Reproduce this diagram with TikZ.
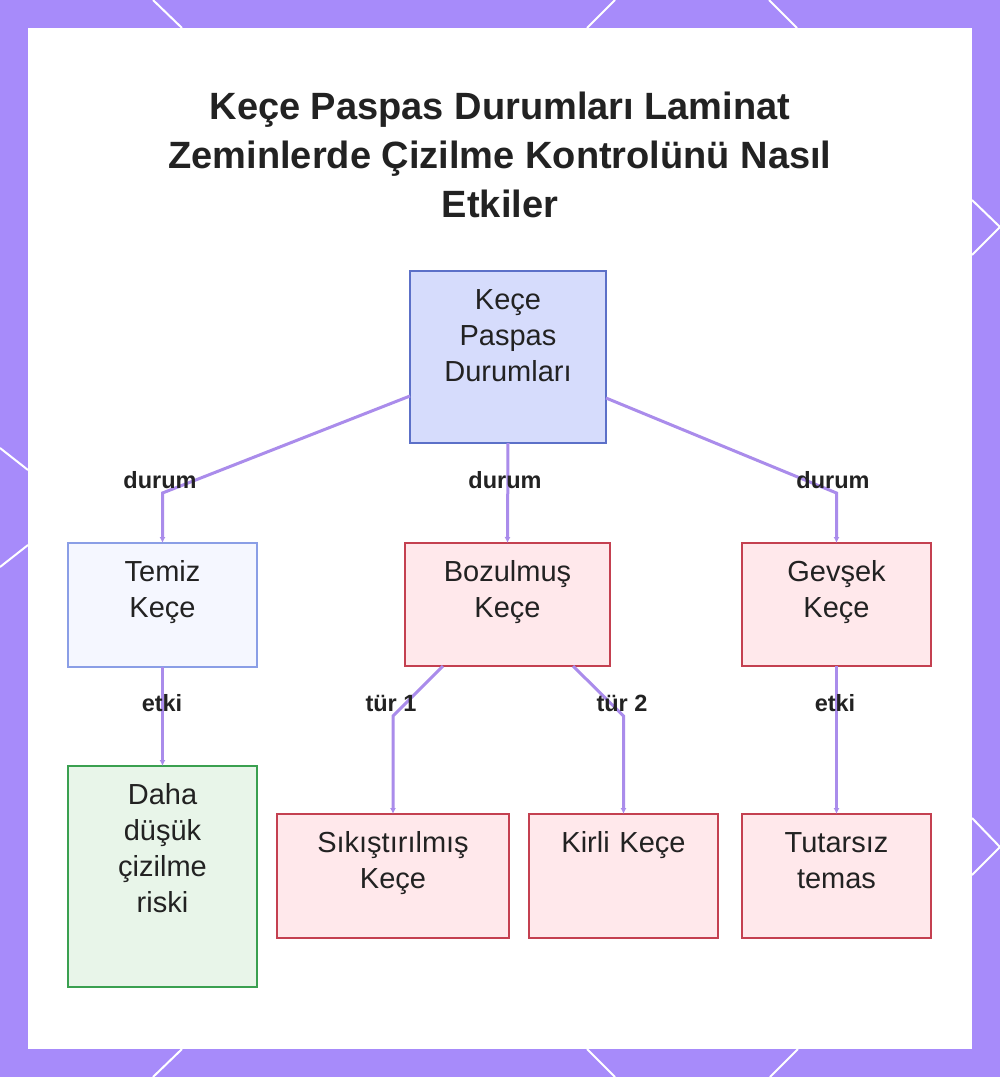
\documentclass[tikz,border=0pt]{standalone}
\usepackage{fontspec}
\setmainfont{Liberation Sans}
\usetikzlibrary{arrows.meta}
\definecolor{framepurple}{RGB}{167,139,250}
\definecolor{edgepurple}{RGB}{170,140,235}
\definecolor{rootfill}{RGB}{214,220,252}
\definecolor{rootline}{RGB}{92,112,200}
\definecolor{cleanfill}{RGB}{245,247,255}
\definecolor{cleanline}{RGB}{138,158,230}
\definecolor{badfill}{RGB}{255,232,235}
\definecolor{badline}{RGB}{196,64,80}
\definecolor{goodfill}{RGB}{232,245,233}
\definecolor{goodline}{RGB}{58,160,80}
\definecolor{ink}{RGB}{34,34,34}
\begin{document}
\begin{tikzpicture}[x=1pt,y=-1pt,
        box/.style={draw, line width=2.2pt, anchor=north, outer sep=0pt, inner xsep=4pt, inner ysep=0pt,
            align=center, text height=38pt, text=ink, font=\fontsize{29}{36}\selectfont},
        edge/.style={edgepurple, line width=3pt, -{Latex[length=6pt,width=6pt]}},
        lbl/.style={text=ink, font=\fontsize{23.5}{28}\selectfont\bfseries}]
    \useasboundingbox (0,0) rectangle (1000,1077);
    \fill[framepurple] (0,0) rectangle (1000,1077);
    \draw[white, line width=2pt] (153,0) -- (182,28) (615,0) -- (587,28) (769,0) -- (797,28);
    \draw[white, line width=2pt] (182,1049) -- (153,1077) (587,1049) -- (615,1077) (798,1049) -- (770,1077);
    \draw[white, line width=2pt] (0,448) -- (28,470) (28,545) -- (0,567);
    \draw[white, line width=2pt] (972,200) -- (1000,227) -- (972,255) (972,818) -- (1000,847) -- (972,875);
    \fill[white] (28,28) rectangle (972,1049);
    \node[text=ink, align=center, font=\fontsize{38}{49}\selectfont\bfseries] (title) at (500,155)
        {Keçe Paspas Durumları Laminat\\Zeminlerde Çizilme Kontrolünü Nasıl\\Etkiler};
    \node[box, fill=rootfill, draw=rootline, text width=188pt, text depth=134pt] (root) at (508,271) {Keçe\\Paspas\\Durumları};
    \node[box, fill=cleanfill, draw=cleanline, text width=181pt, text depth=86pt] (temiz) at (162.5,543) {Temiz\\Keçe};
    \node[box, fill=badfill, draw=badline, text width=197pt, text depth=85pt] (bozuk) at (507.5,543) {Bozulmuş\\Keçe};
    \node[box, fill=badfill, draw=badline, text width=181pt, text depth=85pt] (gevsek) at (836.5,543) {Gevşek\\Keçe};
    \node[box, fill=goodfill, draw=goodline, text width=181pt, text depth=183pt] (risk) at (162.5,766) {Daha\\düşük\\çizilme\\riski};
    \node[box, fill=badfill, draw=badline, text width=224pt, text depth=86pt] (sikis) at (393,814) {Sıkıştırılmış\\Keçe};
    \node[box, fill=badfill, draw=badline, text width=181pt, text depth=86pt] (kirli) at (623.5,814) {Kirli Keçe};
    \node[box, fill=badfill, draw=badline, text width=181pt, text depth=86pt] (temas) at (836.5,814) {Tutarsız\\temas};
    \draw[edge] ([yshift=-39pt]root.west) -- (162.5,493) -- (temiz.north);
    \draw[edge] (root.south) -- (bozuk.north);
    \draw[edge] ([yshift=-41pt]root.east) -- (836.5,493) -- (gevsek.north);
    \draw[edge] (temiz.south) -- (risk.north);
    \draw[edge] ([xshift=-64.5pt]bozuk.south) -- (393,716) -- (sikis.north);
    \draw[edge] ([xshift=65.5pt]bozuk.south) -- (623.5,716) -- (kirli.north);
    \draw[edge] (gevsek.south) -- (temas.north);
    \node[lbl] (d1) at (160,480) {durum};
    \node[lbl] (d2) at (505,480) {durum};
    \node[lbl] (d3) at (833,480) {durum};
    \node[lbl] (e1) at (162,703) {etki};
    \node[lbl] (t1) at (391,703) {tür 1};
    \node[lbl] (t2) at (622,703) {tür 2};
    \node[lbl] (e2) at (835,703) {etki};
\end{tikzpicture}
\end{document}
